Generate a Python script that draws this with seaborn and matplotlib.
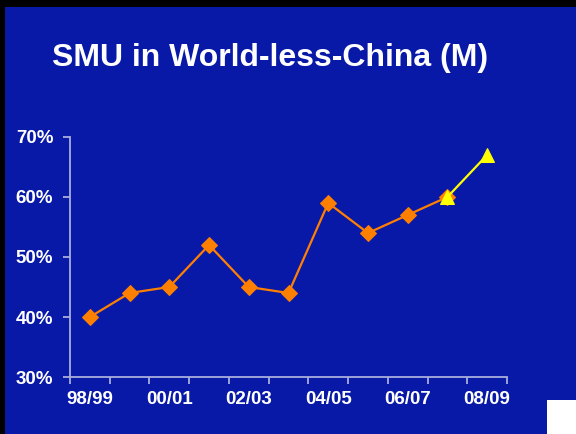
import numpy as np
import pandas as pd
import matplotlib
matplotlib.use("Agg")
import matplotlib.pyplot as plt
import seaborn as sns
from matplotlib.patches import Rectangle

seasons = ["98/99", "99/00", "00/01", "01/02", "02/03", "03/04",
           "04/05", "05/06", "06/07", "07/08", "08/09"]
actual_pct = [40, 44, 45, 52, 45, 44, 59, 54, 57, 60]
forecast_seasons = ["07/08", "08/09"]
forecast_pct = [60, 67]
tick_labels = ["98/99", "00/01", "02/03", "04/05", "06/07", "08/09"]
title = "SMU in World-less-China (M)"

sns.set_style("white")
plt.rcParams['font.family'] = ['Liberation Sans', 'DejaVu Sans']

BLUE = "#0819A8"
AXC = "#A8AEDC"

idx = {s: i for i, s in enumerate(seasons)}
df_a = pd.DataFrame({"x": [idx[s] for s in seasons[:len(actual_pct)]], "y": actual_pct})
df_f = pd.DataFrame({"x": [idx[s] for s in forecast_seasons], "y": forecast_pct})

fig = plt.figure(figsize=(5.76, 4.34), dpi=100, facecolor=BLUE)
fig.patches.append(Rectangle((0, 0), 5/576, 1, transform=fig.transFigure,
                             facecolor="black", edgecolor="none"))
fig.patches.append(Rectangle((0, 1 - 7/434), 1, 7/434, transform=fig.transFigure,
                             facecolor="black", edgecolor="none"))
fig.patches.append(Rectangle((547/576, 0), 29/576, 34/434, transform=fig.transFigure,
                             facecolor="white", edgecolor="none"))

ax = fig.add_axes([70/576, 1 - 377/434, 437/576, 240/434])
ax.set_facecolor(BLUE)

sns.lineplot(data=df_a, x="x", y="y", ax=ax, color="#FF7F00", marker="D",
             markersize=8, markeredgecolor="#FF7F00", linewidth=1.6)
sns.lineplot(data=df_f, x="x", y="y", ax=ax, color="#FFFF00", marker="^",
             markersize=10, markeredgecolor="#FFFF00", linewidth=1.6)

ax.set_xlim(-0.5, 10.5)
ax.set_ylim(30, 70)
ax.set_yticks([30, 40, 50, 60, 70])
ax.set_yticklabels([f"{v}%" for v in [30, 40, 50, 60, 70]])
ax.set_xticks(np.arange(-0.5, 11, 1))
ax.set_xticklabels([])
ax.set_xticks([idx[s] for s in tick_labels], minor=True)
ax.set_xticklabels(tick_labels, minor=True)
ax.tick_params(axis="x", which="minor", bottom=True, length=0, pad=10,
               labelsize=13.5, labelcolor="white")
ax.tick_params(axis="x", which="major", bottom=True, length=5, width=1.3,
               color=AXC, direction="out")
ax.tick_params(axis="y", left=True, length=5, width=1.3, color=AXC, direction="out",
               pad=7, labelsize=13.5, labelcolor="white")
for lab in ax.get_xticklabels(minor=True) + ax.get_yticklabels():
    lab.set_fontweight("bold")
ax.set_xlabel("")
ax.set_ylabel("")
for s in ["top", "right"]:
    ax.spines[s].set_visible(False)
for s in ["left", "bottom"]:
    ax.spines[s].set_color(AXC)
    ax.spines[s].set_linewidth(1.3)

fig.text(270/576, 1 - 58/434, title, ha="center", va="center", color="white",
         fontsize=23, fontweight="bold")

fig.savefig("out.png", dpi=100, facecolor=fig.get_facecolor())
